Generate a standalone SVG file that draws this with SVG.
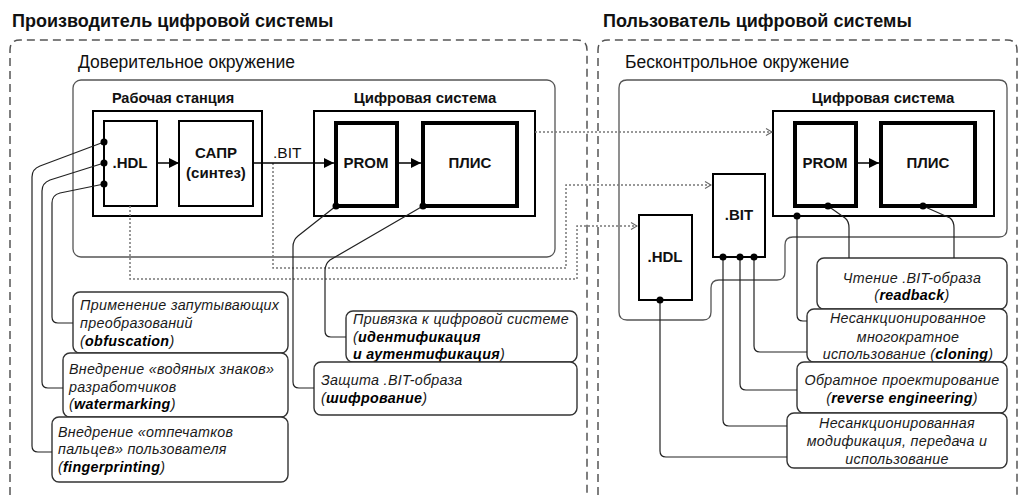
<svg xmlns="http://www.w3.org/2000/svg" width="1023" height="495" viewBox="0 0 1023 495">
  <defs>
    <marker id="tri" viewBox="0 0 10 10" refX="10" refY="5" markerWidth="10" markerHeight="10" markerUnits="userSpaceOnUse" orient="auto">
      <path d="M0,0 L10,5 L0,10 Z" fill="#000"/>
    </marker>
    <marker id="chev" viewBox="0 0 8 8" refX="7" refY="4" markerWidth="8" markerHeight="8" markerUnits="userSpaceOnUse" orient="auto">
      <path d="M1,0.5 L7,4 L1,7.5" fill="none" stroke="#666" stroke-width="1.1"/>
    </marker>
    <style>
      text { font-family: "Liberation Sans", Arial, sans-serif; fill: #111; }
      .title { font-size: 18px; font-weight: bold; }
      .env { font-size: 17.5px; }
      .hdr { font-size: 14.5px; font-weight: bold; }
      .hdr2 { font-size: 15px; font-weight: bold; }
      .lbl { font-size: 15px; font-weight: bold; text-anchor: middle; }
      .note { font-size: 14.3px; font-style: italic; fill: #1a1a1a; letter-spacing: 0.3px; }
      .note tspan.b { font-weight: bold; fill: #000; }
      .mid { text-anchor: middle; }
      .zone { fill: none; stroke: #555; stroke-width: 1.5; stroke-dasharray: 8 5; }
      .env-box { fill: none; stroke: #555; stroke-width: 1.3; }
      .box { fill: #fff; stroke: #000; stroke-width: 2; }
      .chip { fill: #fff; stroke: #000; stroke-width: 4; }
      .callout { fill: #fff; stroke: #333; stroke-width: 1.4; }
      .wire { fill: none; stroke: #222; stroke-width: 1.2; }
      .flow { fill: none; stroke: #000; stroke-width: 1.5; }
      .copy { fill: none; stroke: #777; stroke-width: 1.5; stroke-dasharray: 2 2; }
      .dot { fill: #000; }
    </style>
  </defs>

  <rect width="1023" height="495" fill="#fff"/>

  <!-- zones: manufacturer / user -->
  <g id="zone-maker">
    <path class="zone" d="M10,495 V50 Q10,40 20,40 H577 Q587,40 587,50 V495"/>
    <text class="title" x="12" y="27">Производитель цифровой системы</text>
  </g>
  <g id="zone-user">
    <path class="zone" d="M598,495 V50 Q598,40 608,40 H1007 Q1017,40 1017,50 V495"/>
    <text class="title" x="603" y="27">Пользователь цифровой системы</text>
  </g>

  <!-- environments -->
  <g id="env-trusted">
    <rect class="env-box" x="73" y="80" width="482" height="177" rx="8"/>
    <text class="env" x="78" y="68">Доверительное окружение</text>
  </g>
  <g id="env-untrusted">
    <path class="env-box" d="M619,88 Q619,80 627,80 H999 Q1007,80 1007,88 V229 Q1007,237 999,237 H793 Q785,237 785,245 V272 Q785,280 777,280 H719 Q711,280 711,288 V312 Q711,320 703,320 H627 Q619,320 619,312 Z"/>
    <text class="env" x="625" y="68">Бесконтрольное окружение</text>
  </g>

  <!-- workstation -->
  <g id="workstation">
    <rect class="box" x="93" y="111" width="169" height="105"/>
    <text class="hdr mid" x="173" y="103">Рабочая станция</text>
  </g>
  <g id="hdl-src">
    <rect class="box" x="104" y="121" width="53" height="85"/>
    <text class="lbl" x="130" y="168">.HDL</text>
  </g>
  <g id="cad">
    <rect class="box" x="179" y="121" width="74" height="85"/>
    <text class="lbl" x="216" y="158">САПР</text>
    <text class="lbl" x="216" y="178">(синтез)</text>
  </g>
  <g id="bit-label">
    <text x="273" y="158" font-size="15.5" fill="#000">.BIT</text>
  </g>

  <!-- digital system at the manufacturer -->
  <g id="system-maker">
    <rect class="box" x="314" y="111" width="221" height="105"/>
    <text class="hdr2 mid" x="425" y="103">Цифровая система</text>
  </g>
  <g id="prom-maker">
    <rect class="chip" x="336" y="123" width="61" height="83"/>
    <text class="lbl" x="366" y="168">PROM</text>
  </g>
  <g id="fpga-maker">
    <rect class="chip" x="423" y="123" width="94" height="83"/>
    <text class="lbl" x="470" y="168">ПЛИС</text>
  </g>

  <!-- digital system at the user -->
  <g id="system-user">
    <rect class="box" x="773" y="111" width="221" height="105"/>
    <text class="hdr2 mid" x="883" y="103">Цифровая система</text>
  </g>
  <g id="prom-user">
    <rect class="chip" x="795" y="123" width="61" height="83"/>
    <text class="lbl" x="825" y="168">PROM</text>
  </g>
  <g id="fpga-user">
    <rect class="chip" x="881" y="123" width="94" height="83"/>
    <text class="lbl" x="928" y="168">ПЛИС</text>
  </g>
  <g id="bit-user">
    <rect class="box" x="713" y="174" width="52" height="83"/>
    <text class="lbl" x="739" y="220">.BIT</text>
  </g>
  <g id="hdl-user">
    <rect class="box" x="639" y="215" width="53" height="85"/>
    <text class="lbl" x="665" y="262">.HDL</text>
  </g>

  <!-- protection callouts -->
  <g id="note-obfuscation">
    <rect class="callout" x="73" y="292" width="215" height="61" rx="7"/>
    <text class="note" x="80" y="310">Применение запутывающих</text>
    <text class="note" x="80" y="328">преобразований</text>
    <text class="note" x="80" y="346">(<tspan class="b">obfuscation</tspan>)</text>
  </g>
  <g id="note-watermarking">
    <rect class="callout" x="63" y="353" width="225" height="64" rx="7"/>
    <text class="note" x="69" y="374">Внедрение «водяных знаков»</text>
    <text class="note" x="69" y="392">разработчиков</text>
    <text class="note" x="69" y="409">(<tspan class="b">watermarking</tspan>)</text>
  </g>
  <g id="note-fingerprinting">
    <rect class="callout" x="52" y="417" width="236" height="65" rx="7"/>
    <text class="note" x="58" y="437">Внедрение «отпечатков</text>
    <text class="note" x="58" y="454">пальцев» пользователя</text>
    <text class="note" x="58" y="472">(<tspan class="b">fingerprinting</tspan>)</text>
  </g>
  <g id="note-binding">
    <rect class="callout" x="346" y="311" width="231" height="51" rx="7"/>
    <text class="note" x="353" y="324">Привязка к цифровой системе</text>
    <text class="note" x="353" y="342">(<tspan class="b">идентификация</tspan></text>
    <text class="note" x="353" y="359"><tspan class="b">и аутентификация</tspan>)</text>
  </g>
  <g id="note-encryption">
    <rect class="callout" x="314" y="362" width="263" height="53" rx="7"/>
    <text class="note" x="321" y="385">Защита .BIT-образа</text>
    <text class="note" x="321" y="403">(<tspan class="b">шифрование</tspan>)</text>
  </g>

  <!-- threat callouts -->
  <g id="note-readback">
    <rect class="callout" x="817" y="258" width="190" height="51" rx="7"/>
    <text class="note mid" x="912" y="283">Чтение .BIT-образа</text>
    <text class="note mid" x="912" y="300">(<tspan class="b">readback</tspan>)</text>
  </g>
  <g id="note-cloning">
    <rect class="callout" x="807" y="309" width="200" height="53" rx="7"/>
    <text class="note mid" x="908" y="323">Несанкционированное</text>
    <text class="note mid" x="908" y="342">многократное</text>
    <text class="note mid" x="908" y="359">использование (<tspan class="b">cloning</tspan>)</text>
  </g>
  <g id="note-reverse">
    <rect class="callout" x="797" y="362" width="210" height="51" rx="7"/>
    <text class="note mid" x="902" y="385">Обратное проектирование</text>
    <text class="note mid" x="902" y="403">(<tspan class="b">reverse engineering</tspan>)</text>
  </g>
  <g id="note-modification">
    <rect class="callout" x="787" y="413" width="220" height="55" rx="7"/>
    <text class="note mid" x="897" y="428">Несанкционированная</text>
    <text class="note mid" x="897" y="446">модификация, передача и</text>
    <text class="note mid" x="897" y="464">использование</text>
  </g>

  <!-- connectors, drawn above the boxes they leave from -->
  <g id="connectors">
    <!-- copies carried to the user side -->
    <path class="copy" d="M130,206 V279 H577 V226 H637" marker-end="url(#chev)"/>
    <path class="copy" d="M273,163 V268 H566 V185 H711" marker-end="url(#chev)"/>
    <path class="copy" d="M535,132 H772" marker-end="url(#chev)"/>

    <!-- design flow -->
    <line class="flow" x1="157" y1="163" x2="179" y2="163" marker-end="url(#tri)"/>
    <line class="flow" x1="253" y1="163" x2="334" y2="163" marker-end="url(#tri)"/>
    <line class="flow" x1="397" y1="163" x2="421" y2="163" marker-end="url(#tri)"/>
    <line class="flow" x1="856" y1="163" x2="879" y2="163" marker-end="url(#tri)"/>

    <!-- protection measures -->
    <path class="wire" d="M104,142 L40,166 Q32,169 32,177 V446 Q32,452 38,452 H52"/>
    <path class="wire" d="M104,163 L50,180 Q42,183 42,191 V382 Q42,388 48,388 H63"/>
    <path class="wire" d="M104,184 L60,193 Q52,195 52,203 V317 Q52,323 58,323 H73"/>
    <path class="wire" d="M336,206 L298,236 Q293,240 293,247 V382 Q293,388 299,388 H314"/>
    <path class="wire" d="M423,206 L330,260 Q325,264 325,271 V331 Q325,337 331,337 H346"/>

    <!-- threats -->
    <path class="wire" d="M828,206 L845,218 Q849,221 849,228 V258"/>
    <path class="wire" d="M923,206 L950,218 Q954,221 954,228 V258"/>
    <path class="wire" d="M797,216 V315 Q797,321 803,321 H807"/>
    <path class="wire" d="M754,257 V346 Q754,352 760,352 H807"/>
    <path class="wire" d="M740,257 V384 Q740,390 746,390 H797"/>
    <path class="wire" d="M723,257 V420 Q723,426 729,426 H787"/>
    <path class="wire" d="M660,300 V451 Q660,457 666,457 H787"/>
  </g>

  <!-- junction dots -->
  <g id="junctions">
    <circle class="dot" cx="104" cy="142" r="3.5"/>
    <circle class="dot" cx="104" cy="163" r="3.5"/>
    <circle class="dot" cx="104" cy="184" r="3.5"/>
    <circle class="dot" cx="336" cy="206" r="3.5"/>
    <circle class="dot" cx="423" cy="206" r="3.5"/>
    <circle class="dot" cx="828" cy="206" r="3.5"/>
    <circle class="dot" cx="923" cy="206" r="3.5"/>
    <circle class="dot" cx="797" cy="216" r="3.5"/>
    <circle class="dot" cx="723" cy="257" r="3.5"/>
    <circle class="dot" cx="740" cy="257" r="3.5"/>
    <circle class="dot" cx="754" cy="257" r="3.5"/>
    <circle class="dot" cx="660" cy="300" r="3.5"/>
  </g>
</svg>
